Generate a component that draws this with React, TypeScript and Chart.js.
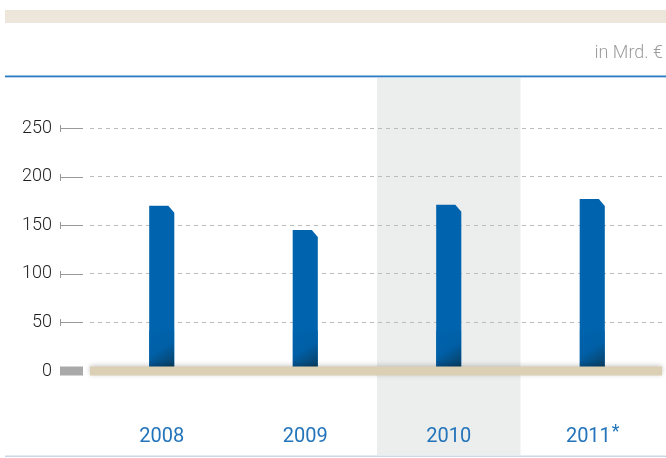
import React, { useEffect, useRef } from 'react';
import { Chart, registerables } from 'chart.js';

Chart.register(...registerables);

// ---- data ----
const categories = ['2008', '2009', '2010', '2011'];
const categoryMarks = ['', '', '', '*'];
const values = [170, 145, 171, 177];
const yTicks = [0, 50, 100, 150, 200, 250];
const unitLabel = 'in Mrd. €';
const highlightIndex = 2;

const FONT = 'Roboto, "Liberation Sans", sans-serif';

const decorPlugin = {
  id: 'decor',
  beforeDraw(chart: any) {
    const { ctx, width } = chart;
    const xs = chart.scales.x;
    ctx.save();
    ctx.fillStyle = '#ffffff';
    ctx.fillRect(0, 0, width, chart.height);
    // top beige band
    ctx.fillStyle = '#ede6da';
    ctx.fillRect(5, 10, width - 5, 13);
    // unit label
    ctx.fillStyle = '#9d9d9d';
    ctx.font = `300 18px ${FONT}`;
    ctx.textAlign = 'right';
    ctx.textBaseline = 'alphabetic';
    ctx.fillText(unitLabel, 663, 58);
    // highlighted category band
    const half = (xs.right - xs.left) / categories.length / 2;
    const cx = xs.getPixelForValue(highlightIndex);
    ctx.fillStyle = '#eceeed';
    ctx.fillRect(cx - half, 78, half * 2, 377);
    // blue rule
    ctx.fillStyle = '#2a7cc4';
    ctx.fillRect(5, 75.5, width - 5, 1.5);
    ctx.fillStyle = '#b7d2ea';
    ctx.fillRect(5, 77, width - 5, 1);
    // bottom rule
    ctx.fillStyle = '#c9d6e3';
    ctx.fillRect(5, 455.5, width - 5, 1.5);
    ctx.restore();
  },
  afterDraw(chart: any) {
    const { ctx, chartArea } = chart;
    const ys = chart.scales.y;
    const xs = chart.scales.x;
    ctx.save();
    // tick marks
    yTicks.forEach((v) => {
      const y = ys.getPixelForValue(v);
      if (v === 0) {
        ctx.fillStyle = '#a9a9a9';
        ctx.fillRect(60, y - 4.5, 23, 9);
      } else {
        ctx.strokeStyle = '#999999';
        ctx.lineWidth = 1;
        ctx.beginPath();
        ctx.moveTo(60, Math.round(y) + 0.5);
        ctx.lineTo(83, Math.round(y) + 0.5);
        ctx.moveTo(60.5, Math.round(y) - 3);
        ctx.lineTo(60.5, Math.round(y) + 4);
        ctx.stroke();
      }
    });
    // bars with chamfered top-right corner
    const meta = chart.getDatasetMeta(0);
    meta.data.forEach((el: any) => {
      const { x, y, base, width: w } = el.getProps(['x', 'y', 'base', 'width'], true);
      const l = x - w / 2;
      const r = x + w / 2;
      const g = ctx.createLinearGradient(l, base - 38, r, base);
      g.addColorStop(0, '#0063ad');
      g.addColorStop(0.45, '#005fa6');
      g.addColorStop(1, '#0b3a58');
      ctx.beginPath();
      ctx.moveTo(l, base);
      ctx.lineTo(l, y);
      ctx.lineTo(r - 6, y);
      ctx.lineTo(r, y + 7);
      ctx.lineTo(r, base);
      ctx.closePath();
      ctx.fillStyle = '#0063ad';
      ctx.fill();
      ctx.save();
      ctx.clip();
      ctx.fillStyle = g;
      ctx.fillRect(l, base - 40, w, 40);
      ctx.restore();
    });
    // zero line
    const y0 = ys.getPixelForValue(0);
    ctx.save();
    ctx.shadowColor = 'rgba(0,0,0,0.22)';
    ctx.shadowBlur = 5;
    ctx.shadowOffsetY = -1;
    ctx.fillStyle = '#dbd0b4';
    ctx.fillRect(chartArea.left, y0 - 4.5, 572, 9);
    ctx.restore();
    // category labels
    ctx.fillStyle = '#2374bb';
    ctx.textBaseline = 'alphabetic';
    categories.forEach((c, i) => {
      const cx = xs.getPixelForValue(i);
      ctx.font = `400 20px ${FONT}`;
      const w1 = ctx.measureText(c).width;
      const mark = categoryMarks[i];
      ctx.font = `400 18px ${FONT}`;
      const w2 = mark ? ctx.measureText(mark).width : 0;
      const start = cx - (w1 + w2) / 2;
      ctx.textAlign = 'left';
      ctx.font = `400 20px ${FONT}`;
      ctx.fillText(c, start, 442);
      if (mark) {
        ctx.font = `400 18px ${FONT}`;
        ctx.fillText(mark, start + w1 + 1, 437);
      }
    });
    ctx.restore();
  },
};

export default function App() {
  const ref = useRef<HTMLCanvasElement | null>(null);
  useEffect(() => {
    document.body.style.margin = '0';
    const canvas = ref.current!;
    const chart = new Chart(canvas, {
      type: 'bar',
      data: {
        labels: categories,
        datasets: [
          {
            data: values,
            backgroundColor: 'rgba(0,0,0,0)',
            borderWidth: 0,
            categoryPercentage: 1,
            barPercentage: 0.175,
          },
        ],
      },
      options: {
        responsive: false,
        animation: false,
        events: [],
        layout: { padding: { top: 128, bottom: 87, left: 0, right: 2 } },
        plugins: { legend: { display: false }, tooltip: { enabled: false } },
        scales: {
          x: { display: false },
          y: {
            min: 0,
            max: 250,
            afterFit: (scale: any) => {
              scale.width = 90;
            },
            afterBuildTicks: (scale: any) => {
              scale.ticks = yTicks.map((v) => ({ value: v }));
            },
            ticks: {
              padding: 38,
              color: '#1e1e1e',
              font: { family: FONT, size: 18, weight: '300' as any },
            },
            grid: {
              drawTicks: false,
              color: (c: any) => (c.tick && c.tick.value === 0 ? 'rgba(0,0,0,0)' : '#bcbcbc'),
              lineWidth: 1,
            },
            border: { display: false, dash: [4, 4] },
          },
        },
      },
      plugins: [decorPlugin],
    });
    return () => chart.destroy();
  }, []);
  return <canvas ref={ref} width={666} height={458} style={{ display: 'block' }} />;
}
